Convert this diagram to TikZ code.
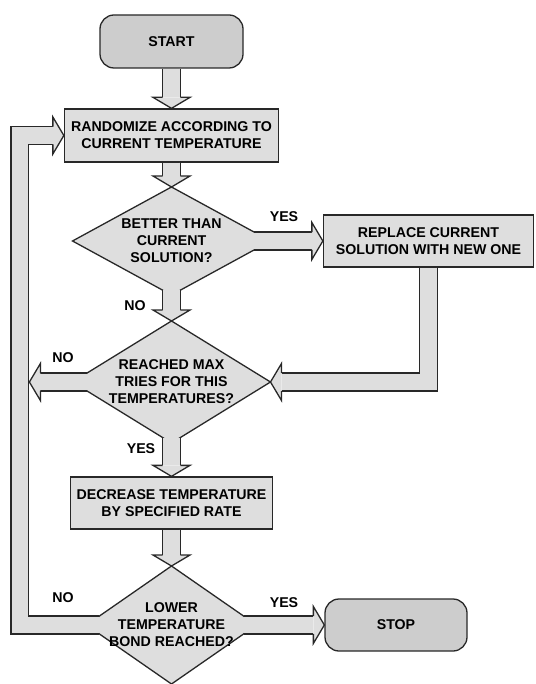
\documentclass[tikz,border=0pt]{standalone}
\usepackage{fontspec}
\setmainfont{Liberation Sans}
\usepackage{tikz}
\usetikzlibrary{shapes,positioning,calc}

\definecolor{boxgray}{RGB}{222,222,222}
\definecolor{termgray}{RGB}{205,205,205}
\definecolor{linegray}{RGB}{40,40,40}

% block arrow: #1 shaft path, #2 point before the head, #3 tip
\newcommand{\fatarrow}[3]{%
  \path #2 coordinate (fa-b) #3 coordinate (fa-t);
  \path ($(fa-t)!11pt!(fa-b)$) coordinate (fa-h);
  \draw [shaft] #1 -- (fa-h);
  \filldraw [head] ($(fa-h)!8.95pt!90:(fa-t)$) -- ($(fa-h)!18.5pt!90:(fa-t)$)
    -- (fa-t) -- ($(fa-h)!18.5pt!-90:(fa-t)$) -- ($(fa-h)!8.95pt!-90:(fa-t)$);
}

\begin{document}
\begin{tikzpicture}[x=1pt,y=-1pt,font=\bfseries\fontsize{14.2}{17}\selectfont]

\tikzstyle{terminal}=[draw=linegray,line width=1.3pt,fill=termgray,rounded corners=14pt,minimum width=143pt,minimum height=53pt]
\tikzstyle{process}=[draw=linegray,line width=1.3pt,fill=boxgray,inner sep=0pt,minimum height=53pt,align=center]
\tikzstyle{decision}=[diamond,draw=linegray,line width=1.3pt,fill=boxgray,inner xsep=-20pt,inner ysep=-4pt,outer sep=0pt,aspect=1.5,align=center]
\tikzstyle{shaft}=[draw=linegray,line width=1.3pt,double=boxgray,double distance=16.6pt]
\tikzstyle{head}=[draw=linegray,line width=1.3pt,fill=boxgray]

\useasboundingbox (0,0) rectangle (535,684);

%steps
\node [terminal] (start) at (171.5,41.5) {START};
\node [process,minimum width=214pt] (rand) [node distance=94pt,below of=start] {RANDOMIZE ACCORDING TO\\CURRENT TEMPERATURE};
\node [decision,minimum width=198pt,minimum height=108pt] (better) [node distance=105.5pt,below of=rand] {BETTER THAN\\CURRENT\\SOLUTION?};
\node [process,minimum width=210pt,minimum height=52pt] (replace) [node distance=257pt,right of=better] {REPLACE CURRENT\\SOLUTION WITH NEW ONE};
\node [decision,minimum width=198pt,minimum height=122pt] (reached) [node distance=141pt,below of=better] {REACHED MAX\\TRIES FOR THIS\\TEMPERATURES?};
\node [process,minimum width=202pt,minimum height=52pt] (decrease) [node distance=121pt,below of=reached] {DECREASE TEMPERATURE\\BY SPECIFIED RATE};
\node [decision,minimum width=170pt,minimum height=118pt] (lower) [node distance=122pt,below of=decrease] {LOWER\\TEMPERATURE\\BOND REACHED?};
\node [terminal,minimum width=142pt,minimum height=52pt] (stop) [node distance=224.5pt,right of=lower] {STOP};

%outer loop
\coordinate (loopx) at (19.8,0);
\coordinate (l-no) at ($(lower.west)+(12.9,0)$);
\fatarrow{(l-no) -- (lower.west -| loopx) -- (rand.west -| loopx)}{(rand.west -| loopx)}{(rand.west)}

%main flow
\fatarrow{(start.south)}{(start.south)}{(rand.north)}
\fatarrow{(rand.south)}{(rand.south)}{(better.north)}

\coordinate (b-yes) at ($(better.east)+(-16.4,0)$);
\fatarrow{(b-yes)}{(b-yes)}{(replace.west)}
\coordinate (b-no) at ($(better.south)+(0,-4.9)$);
\fatarrow{(b-no)}{(b-no)}{(reached.north)}

\fatarrow{(replace.south) -- (replace.south |- reached.east)}{(replace.south |- reached.east)}{(reached.east)}

\coordinate (r-no) at ($(reached.west)+(14.5,0)$);
\coordinate (r-tip) at ($(reached.west -| loopx)+(9.6,0)$);
\fatarrow{(r-no)}{(r-no)}{(r-tip)}
\coordinate (r-yes) at ($(reached.south)+(0,-5.5)$);
\fatarrow{(r-yes)}{(r-yes)}{(decrease.north)}

\fatarrow{(decrease.south)}{(decrease.south)}{(lower.north)}
\coordinate (l-yes) at ($(lower.east)+(-12.9,0)$);
\fatarrow{(l-yes)}{(l-yes)}{(stop.west)}

%labels
\node (yes1) at (284,217) {YES};
\node (no1) at (135,306) {NO};
\node (no2) at (63,357.5) {NO};
\node (yes2) at (141,449) {YES};
\node (no3) at (63,598) {NO};
\node (yes3) at (284,602.5) {YES};

\end{tikzpicture}
\end{document}
